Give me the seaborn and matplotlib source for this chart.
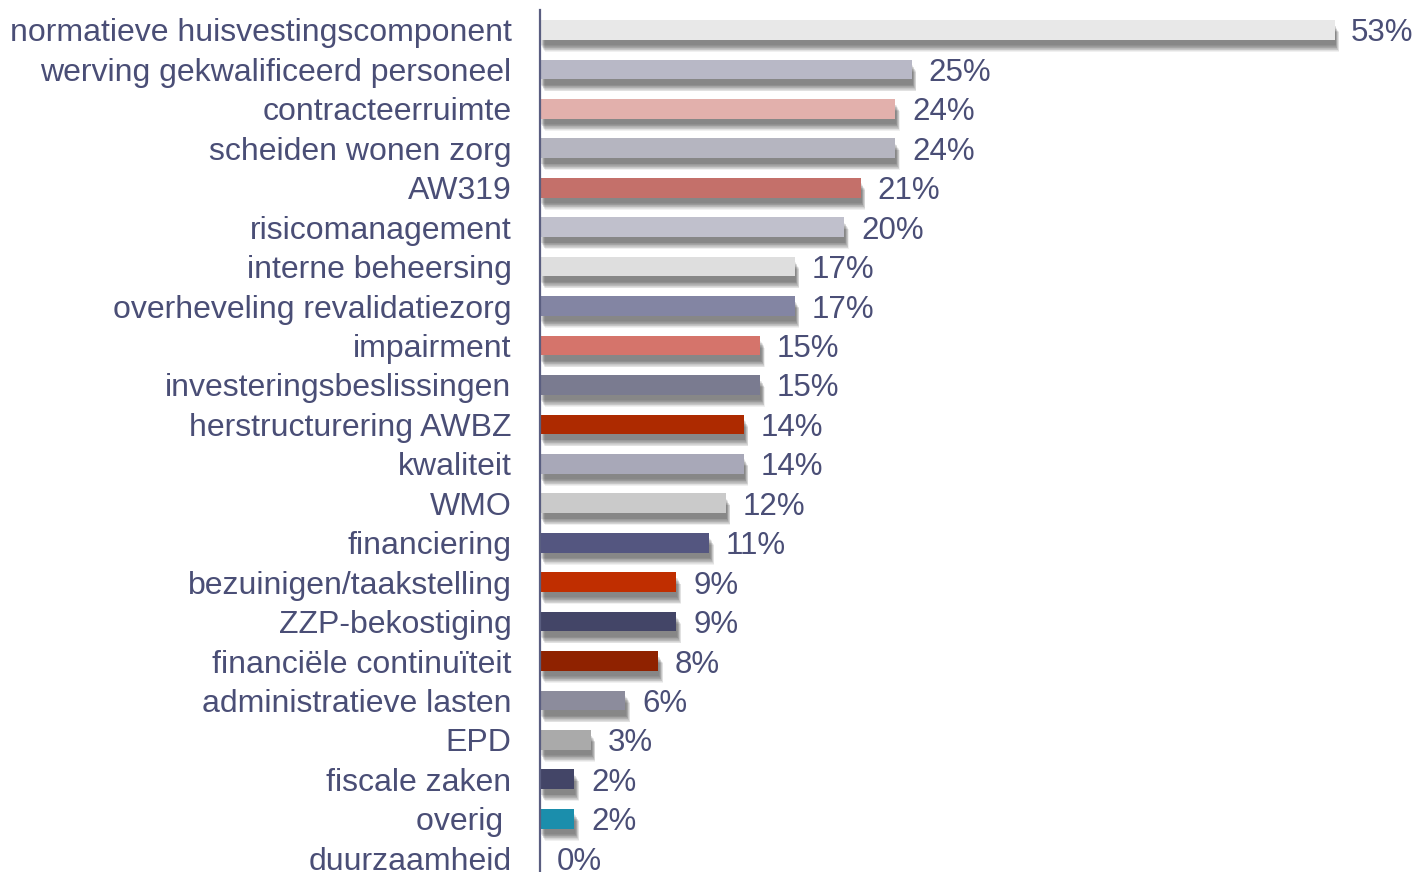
import matplotlib
matplotlib.use("Agg")
import matplotlib.pyplot as plt
import matplotlib.patches as mpatches
import matplotlib.transforms as mtransforms
import seaborn as sns
import pandas as pd

categories = [
    "normatieve huisvestingscomponent", "werving gekwalificeerd personeel",
    "contracteerruimte", "scheiden wonen zorg", "AW319", "risicomanagement",
    "interne beheersing", "overheveling revalidatiezorg", "impairment",
    "investeringsbeslissingen", "herstructurering AWBZ", "kwaliteit", "WMO",
    "financiering", "bezuinigen/taakstelling", "ZZP-bekostiging",
    "financiële continuïteit", "administratieve lasten", "EPD",
    "fiscale zaken", "overig ", "duurzaamheid",
]
values = [53.0, 24.8, 23.7, 23.7, 21.4, 20.3, 17.0, 17.0, 14.7, 14.7, 13.6,
          13.6, 12.4, 11.3, 9.1, 9.1, 7.9, 5.7, 3.4, 2.3, 2.3, 0.0]
value_labels = ["53%", "25%", "24%", "24%", "21%", "20%", "17%", "17%", "15%",
                "15%", "14%", "14%", "12%", "11%", "9%", "9%", "8%", "6%",
                "3%", "2%", "2%", "0%"]
colors = ["#e8e8e8", "#b8b8c6", "#e2b0ac", "#b5b5c0", "#c4706a", "#c0c0cc",
          "#dedede", "#8385a3", "#d5746b", "#7a7b90", "#ad2a00", "#a8a8b8",
          "#cacaca", "#545680", "#c02e00", "#434567", "#8f2200", "#8c8c9c",
          "#aaaaaa", "#434567", "#1b8eac", "#ffffff"]

text_color = "#4a4e76"

sns.set_theme(style="white")
plt.rcParams["font.family"] = ["Liberation Sans", "DejaVu Sans"]

df = pd.DataFrame({"cat": categories, "val": values})

fig = plt.figure(figsize=(14.17, 8.72), dpi=100)
ax = fig.add_axes([540 / 1417, 0.0, 1 - 540 / 1417, 1 - 10 / 872])

sns.barplot(data=df, y="cat", x="val", hue="cat", palette=colors,
            orient="h", width=0.5, legend=False, ax=ax, saturation=1)

# soft drop shadow: stacked translucent copies of each bar, offset down/right
n_layers = 10
bars = [p for p in ax.patches if p.get_width() > 0]
for p in bars:
    p.set_edgecolor("none")
    p.set_zorder(3)
    for k in range(n_layers):
        t = k / (n_layers - 1)
        dx_px, dy_px = 1.0 + 3.5 * t, 5.5 + 6.5 * t
        off = mtransforms.ScaledTranslation(dx_px / 100, -dy_px / 100,
                                            fig.dpi_scale_trans)
        r = mpatches.Rectangle(p.get_xy(), p.get_width(), p.get_height(),
                               transform=ax.transData + off,
                               facecolor="#000000", edgecolor="none",
                               alpha=0.06, zorder=2, clip_on=False)
        ax.add_patch(r)

for i, (v, lab) in enumerate(zip(values, value_labels)):
    ax.annotate(lab, xy=(v, i), xytext=(12, 0), textcoords="offset points",
                ha="left", va="center_baseline", fontsize=22.5, color=text_color)

ax.set_xlim(0, 58.5)
ax.set_ylim(21.35, -0.507)
ax.set_xlabel("")
ax.set_ylabel("")
ax.set_xticks([])
for s in ["top", "right", "bottom"]:
    ax.spines[s].set_visible(False)
ax.spines["left"].set_color("#5a5e80")
ax.spines["left"].set_linewidth(1.6)
ax.spines["left"].set_zorder(4)
ax.tick_params(axis="y", length=0, pad=20.5, labelsize=23, labelcolor=text_color)

fig.savefig("out.png", dpi=100)
